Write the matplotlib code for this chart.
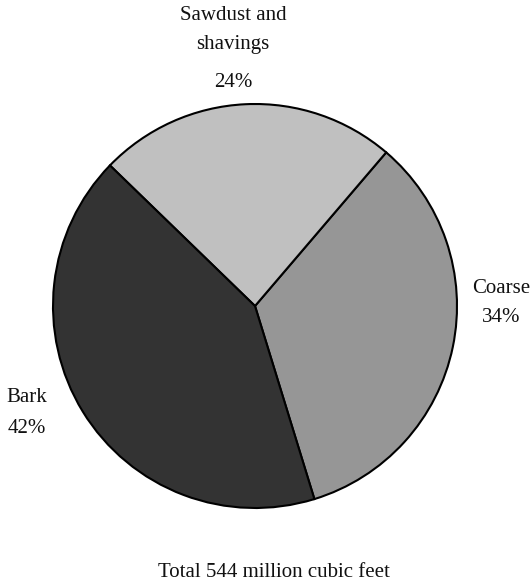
import matplotlib
matplotlib.use("Agg")
import matplotlib.pyplot as plt

categories = ["Coarse", "Sawdust and\nshavings", "Bark"]
shares = [34, 24, 42]
colors = ["#969696", "#c0c0c0", "#333333"]
total_note = "Total 544 million cubic feet"

W, H = 532, 583
fig = plt.figure(figsize=(W / 100, H / 100), dpi=100)
cx, cy, r = 255, 306, 202
ax = fig.add_axes([(cx - r) / W, (H - cy - r) / H, 2 * r / W, 2 * r / H])
ax.pie(shares, colors=colors, startangle=-72.9, counterclock=True,
       radius=1, wedgeprops=dict(edgecolor="black", linewidth=1.5))
ax.set_xlim(-1, 1)
ax.set_ylim(-1, 1)
ax.set_aspect("equal")
ax.axis("off")

font = dict(family="Liberation Serif", fontsize=15, color="#111111", ha="center", va="baseline")

def put(text, px, py):
    fig.text(px / W, 1 - py / H, text, **font)

saw_lines = categories[1].split("\n") + [f"{shares[1]}%"]
for line, by in zip(saw_lines, [20, 49, 87]):
    put(line, 233, by)
put(categories[0], 501, 293)
put(f"{shares[0]}%", 501, 322)
put(categories[2], 27, 402)
put(f"{shares[2]}%", 27, 433)
put(total_note, 274, 577)

fig.savefig("out.png", dpi=100)
